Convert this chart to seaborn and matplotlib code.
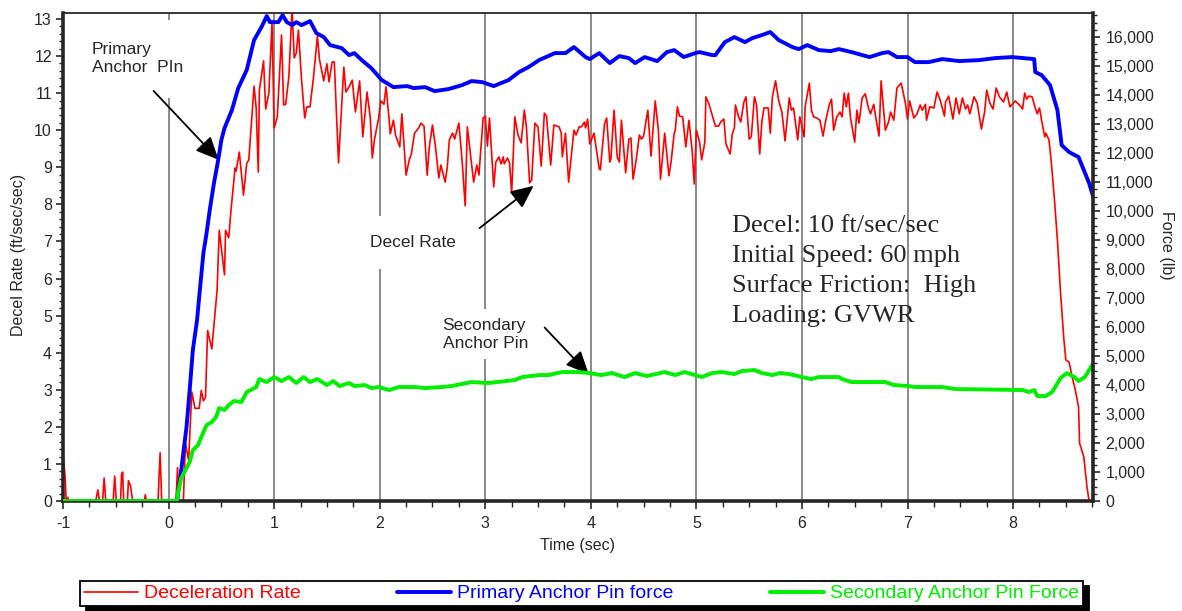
import matplotlib
matplotlib.use("Agg")
import matplotlib.pyplot as plt
from matplotlib.ticker import MultipleLocator, StrMethodFormatter
import seaborn as sns

# deceleration rate (ft/sec/sec)
decel_t = [-1.00, -0.98, -0.97, -0.955, -0.945, -0.69, -0.67, -0.655, -0.625, -0.61,
           -0.595, -0.525, -0.51, -0.495, -0.455, -0.445, -0.435, -0.425, -0.39, -0.38,
           -0.36, -0.34, -0.23, -0.22, -0.21, -0.10, -0.08, -0.065, 0.07, 0.085,
           0.095, 0.14, 0.16, 0.19, 0.22, 0.25, 0.29, 0.31, 0.33, 0.35,
           0.37, 0.41, 0.44, 0.46, 0.48, 0.53, 0.54, 0.57, 0.59, 0.63,
           0.64, 0.67, 0.71, 0.74, 0.76, 0.81, 0.83, 0.85, 0.86, 0.90,
           0.92, 0.95, 0.98, 1.00, 1.03, 1.07, 1.09, 1.11, 1.14, 1.17,
           1.19, 1.21, 1.23, 1.26, 1.29, 1.31, 1.34, 1.37, 1.41, 1.43,
           1.47, 1.50, 1.52, 1.55, 1.57, 1.61, 1.66, 1.68, 1.71, 1.74,
           1.77, 1.81, 1.84, 1.88, 1.91, 1.93, 1.95, 1.99, 2.01, 2.04,
           2.06, 2.09, 2.10, 2.13, 2.15, 2.19, 2.21, 2.25, 2.28, 2.30,
           2.33, 2.37, 2.39, 2.42, 2.45, 2.47, 2.50, 2.53, 2.56, 2.58,
           2.62, 2.64, 2.66, 2.69, 2.71, 2.75, 2.78, 2.81, 2.83, 2.85,
           2.89, 2.92, 2.94, 2.98, 3.00, 3.02, 3.04, 3.08, 3.10, 3.13,
           3.15, 3.17, 3.18, 3.21, 3.23, 3.25, 3.28, 3.31, 3.34, 3.37,
           3.39, 3.42, 3.44, 3.47, 3.50, 3.53, 3.56, 3.58, 3.62, 3.65,
           3.70, 3.72, 3.73, 3.76, 3.79, 3.84, 3.86, 3.89, 3.91, 3.94,
           3.95, 3.97, 3.99, 4.03, 4.08, 4.09, 4.13, 4.15, 4.18, 4.19,
           4.22, 4.25, 4.27, 4.29, 4.33, 4.36, 4.38, 4.40, 4.43, 4.46,
           4.48, 4.50, 4.54, 4.57, 4.61, 4.64, 4.66, 4.70, 4.74, 4.76,
           4.79, 4.80, 4.82, 4.84, 4.87, 4.90, 4.93, 4.96, 4.98, 5.00,
           5.03, 5.05, 5.08, 5.09, 5.12, 5.15, 5.18, 5.21, 5.23, 5.26,
           5.28, 5.32, 5.34, 5.36, 5.37, 5.40, 5.42, 5.45, 5.47, 5.50,
           5.52, 5.55, 5.57, 5.60, 5.62, 5.64, 5.68, 5.70, 5.72, 5.75,
           5.78, 5.81, 5.84, 5.88, 5.90, 5.92, 5.96, 5.98, 6.02, 6.03,
           6.07, 6.09, 6.11, 6.14, 6.17, 6.20, 6.22, 6.26, 6.28, 6.30,
           6.33, 6.36, 6.38, 6.40, 6.42, 6.44, 6.46, 6.50, 6.52, 6.54,
           6.57, 6.60, 6.63, 6.65, 6.68, 6.70, 6.73, 6.75, 6.79, 6.82,
           6.84, 6.87, 6.90, 6.94, 6.98, 7.00, 7.02, 7.06, 7.09, 7.12,
           7.14, 7.17, 7.18, 7.21, 7.25, 7.28, 7.31, 7.35, 7.36, 7.39,
           7.43, 7.46, 7.49, 7.52, 7.55, 7.57, 7.59, 7.63, 7.66, 7.70,
           7.73, 7.75, 7.78, 7.81, 7.84, 7.87, 7.91, 7.94, 7.97, 8.02,
           8.06, 8.09, 8.11, 8.13, 8.15, 8.18, 8.21, 8.23, 8.25, 8.27,
           8.30, 8.31, 8.34, 8.36, 8.39, 8.42, 8.45, 8.48, 8.50, 8.53,
           8.56, 8.59, 8.62, 8.63, 8.67, 8.70, 8.72]
decel = [1.30, 0.65, 0.00, 0.10, 0.00, 0.00, 0.30, 0.00, 0.00, 0.62,
         0.00, 0.00, 0.67, 0.00, 0.00, 0.72, 0.78, 0.00, 0.00, 0.55,
         0.40, 0.00, 0.00, 0.17, 0.00, 0.00, 1.30, 0.00, 0.00, 0.90,
         0.00, 0.00, 1.56, 1.10, 2.94, 2.50, 2.50, 2.98, 2.70, 2.80,
         4.60, 4.10, 5.07, 5.70, 7.30, 6.10, 7.30, 7.10, 7.80, 8.98,
         8.90, 9.41, 8.25, 9.10, 9.20, 11.19, 10.60, 8.87, 11.08, 11.87,
         10.57, 11.00, 12.89, 10.06, 10.36, 12.57, 10.68, 10.70, 11.46, 13.30,
         11.95, 12.08, 12.70, 11.35, 10.33, 10.63, 10.63, 11.35, 12.54, 11.90,
         11.33, 11.79, 11.30, 11.84, 11.84, 9.12, 11.70, 11.03, 11.17, 11.35,
         10.49, 11.33, 9.82, 11.03, 10.36, 9.25, 9.74, 10.33, 10.79, 10.70,
         11.17, 10.27, 9.90, 10.27, 9.87, 9.55, 10.44, 8.79, 9.20, 9.36,
         9.92, 10.06, 10.19, 10.11, 8.79, 9.55, 10.14, 9.52, 8.71, 9.06,
         8.60, 9.00, 9.74, 9.92, 9.76, 10.19, 9.20, 7.96, 10.09, 9.60,
         8.60, 9.06, 8.79, 10.33, 10.38, 9.57, 10.33, 8.47, 9.14, 9.28,
         9.09, 9.28, 9.09, 9.25, 9.12, 8.31, 10.36, 9.87, 9.66, 10.54,
         10.09, 8.58, 8.66, 10.19, 10.09, 9.03, 10.46, 10.38, 9.06, 10.14,
         10.09, 9.92, 9.28, 9.92, 8.60, 10.00, 9.87, 10.09, 10.09, 10.22,
         10.06, 10.30, 9.63, 9.92, 8.95, 8.93, 10.17, 10.33, 9.14, 9.22,
         10.54, 9.28, 9.14, 10.27, 8.85, 9.76, 9.79, 8.68, 9.20, 9.87,
         9.76, 9.84, 10.54, 9.30, 10.79, 10.00, 8.68, 9.92, 8.77, 9.14,
         9.92, 10.00, 10.63, 10.38, 10.36, 9.55, 10.27, 9.44, 8.55, 10.00,
         9.68, 9.20, 9.68, 10.90, 10.70, 10.41, 10.11, 10.11, 10.22, 10.30,
         9.63, 9.36, 9.90, 10.06, 10.68, 10.36, 10.22, 10.76, 10.90, 9.76,
         9.82, 10.90, 10.68, 9.36, 10.22, 10.60, 10.60, 9.92, 10.90, 11.33,
         10.79, 10.49, 9.71, 10.87, 10.54, 10.60, 9.74, 10.36, 9.82, 10.63,
         11.27, 10.54, 10.36, 10.33, 10.27, 9.84, 10.19, 10.70, 10.84, 10.00,
         10.36, 10.49, 10.36, 11.00, 10.63, 11.00, 10.33, 9.68, 10.54, 10.19,
         10.87, 10.98, 10.60, 10.44, 10.70, 10.33, 9.84, 11.33, 10.00, 10.22,
         10.49, 10.27, 11.14, 11.27, 10.73, 10.30, 10.79, 10.33, 10.44, 10.68,
         10.54, 10.70, 10.27, 10.63, 10.60, 11.03, 10.81, 10.38, 10.76, 10.92,
         10.30, 10.87, 10.44, 10.87, 10.57, 10.68, 10.44, 10.90, 10.73, 10.03,
         10.49, 11.08, 10.73, 10.57, 11.14, 10.90, 10.76, 11.03, 10.63, 10.79,
         10.68, 10.57, 11.00, 10.84, 10.92, 10.90, 10.60, 10.44, 10.60, 10.27,
         9.82, 9.92, 9.74, 9.20, 8.20, 7.04, 5.60, 4.40, 3.80, 3.75,
         3.34, 2.99, 2.54, 1.56, 1.19, 0.38, 0.00]

# primary anchor pin force (lb)
primary_t = [-1.00, 0.08, 0.12, 0.17, 0.20, 0.23, 0.27, 0.29, 0.33, 0.36,
             0.39, 0.43, 0.47, 0.50, 0.53, 0.60, 0.66, 0.74, 0.81, 0.88,
             0.93, 0.96, 1.04, 1.08, 1.12, 1.17, 1.21, 1.26, 1.34, 1.40,
             1.47, 1.53, 1.64, 1.71, 1.76, 1.83, 1.92, 2.02, 2.13, 2.26,
             2.32, 2.43, 2.52, 2.65, 2.78, 2.87, 2.97, 3.08, 3.22, 3.32,
             3.41, 3.51, 3.66, 3.76, 3.84, 3.95, 3.99, 4.08, 4.18, 4.27,
             4.36, 4.42, 4.51, 4.63, 4.72, 4.79, 4.88, 4.99, 5.03, 5.15,
             5.18, 5.27, 5.36, 5.46, 5.53, 5.62, 5.70, 5.78, 5.91, 5.97,
             6.05, 6.16, 6.27, 6.35, 6.47, 6.64, 6.76, 6.82, 6.90, 7.00,
             7.07, 7.20, 7.33, 7.49, 7.68, 7.83, 7.99, 8.20, 8.21, 8.27,
             8.35, 8.42, 8.46, 8.53, 8.62, 8.67, 8.72, 8.76]
primary = [0, 0, 1069, 2552, 3828, 5207, 6241, 7034, 8551, 9241,
           10034, 10965, 11758, 12448, 12862, 13482, 14241, 14861, 15896, 16344,
           16723, 16516, 16516, 16758, 16516, 16413, 16516, 16413, 16551, 16137,
           16000, 15723, 15620, 15379, 15448, 15206, 14930, 14517, 14275, 14310,
           14241, 14275, 14137, 14206, 14344, 14482, 14448, 14310, 14517, 14793,
           14965, 15206, 15448, 15448, 15655, 15310, 15241, 15448, 15103, 15344,
           15275, 15103, 15310, 15172, 15482, 15551, 15310, 15448, 15482, 15379,
           15379, 15827, 16000, 15827, 15965, 16068, 16172, 15896, 15655, 15586,
           15723, 15551, 15517, 15586, 15482, 15310, 15448, 15482, 15310, 15310,
           15137, 15137, 15241, 15172, 15206, 15275, 15310, 15241, 14793, 14689,
           14344, 13482, 12275, 12034, 11862, 11413, 10965, 10482]

# secondary anchor pin force (lb)
secondary_t = [-1.00, 0.08, 0.09, 0.12, 0.16, 0.20, 0.23, 0.28, 0.31, 0.36,
               0.41, 0.45, 0.48, 0.53, 0.57, 0.62, 0.69, 0.74, 0.83, 0.86,
               0.93, 1.00, 1.07, 1.14, 1.21, 1.28, 1.34, 1.41, 1.50, 1.56,
               1.62, 1.71, 1.76, 1.86, 1.92, 1.99, 2.09, 2.18, 2.33, 2.43,
               2.59, 2.68, 2.87, 3.03, 3.28, 3.35, 3.51, 3.60, 3.73, 3.89,
               3.98, 4.10, 4.20, 4.32, 4.42, 4.53, 4.70, 4.80, 4.89, 5.05,
               5.15, 5.24, 5.36, 5.43, 5.55, 5.62, 5.72, 5.79, 5.88, 6.00,
               6.09, 6.16, 6.35, 6.38, 6.47, 6.79, 6.87, 7.01, 7.07, 7.33,
               7.45, 8.09, 8.15, 8.20, 8.23, 8.31, 8.37, 8.45, 8.51, 8.58,
               8.62, 8.68, 8.76]
secondary = [0, 0, 300, 793, 1069, 1345, 1758, 1931, 2207, 2620,
             2724, 2896, 3207, 3138, 3310, 3448, 3414, 3758, 3931, 4206,
             4103, 4275, 4137, 4275, 4069, 4275, 4103, 4206, 4000, 4137,
             3965, 4069, 3965, 4000, 3896, 3931, 3827, 3931, 3931, 3896,
             3931, 3965, 4103, 4069, 4172, 4275, 4344, 4344, 4448, 4448,
             4413, 4344, 4413, 4275, 4413, 4310, 4448, 4344, 4448, 4275,
             4413, 4448, 4379, 4482, 4517, 4413, 4344, 4413, 4379, 4275,
             4206, 4275, 4275, 4206, 4103, 4103, 4000, 3965, 3931, 3931,
             3862, 3827, 3758, 3827, 3620, 3620, 3758, 4241, 4413, 4275,
             4137, 4275, 4758]

info_lines = ["Decel: 10 ft/sec/sec", "Initial Speed: 60 mph",
              "Surface Friction:  High", "Loading: GVWR"]

RED, BLUE, GREEN = "#ff0000", "#0000ff", "#00ee00"

sns.set_style("ticks")
plt.rcParams["font.family"] = ["Liberation Sans", "DejaVu Sans"]
plt.rcParams["axes.unicode_minus"] = False

fig = plt.figure(figsize=(11.82, 6.11), dpi=100)
ax = fig.add_axes([0.0533, 0.180, 0.8714, 0.7987])
ax2 = ax.twinx()

sns.lineplot(x=decel_t, y=decel, ax=ax, color=RED, lw=1.2, estimator=None,
             sort=False, legend=False, label="Deceleration Rate")
sns.lineplot(x=primary_t, y=primary, ax=ax2, color=BLUE, lw=2.8, estimator=None,
             sort=False, legend=False, label="Primary Anchor Pin force")
sns.lineplot(x=secondary_t, y=secondary, ax=ax2, color=GREEN, lw=2.8, estimator=None,
             sort=False, legend=False, label="Secondary Anchor Pin Force")

ax.set_xlim(-1, 8.757)
ax.set_ylim(0, 13.16)
ax2.set_ylim(0, 16830)

ax.xaxis.set_major_locator(MultipleLocator(1))
ax.xaxis.set_minor_locator(MultipleLocator(0.25))
ax.yaxis.set_major_locator(MultipleLocator(1))
ax.yaxis.set_minor_locator(MultipleLocator(0.2))
ax2.yaxis.set_major_locator(MultipleLocator(1000))
ax2.yaxis.set_minor_locator(MultipleLocator(250))
ax2.yaxis.set_major_formatter(StrMethodFormatter("{x:,.0f}"))

ax.set_axisbelow(True)
ax.grid(axis="x", which="major", color="#8a8a8a", lw=1.4)
ax.grid(axis="y", visible=False)

ax.tick_params(axis="x", which="major", direction="out", length=6, width=1.2,
               labelsize=11.5, pad=5)
ax.tick_params(axis="x", which="minor", direction="out", length=4, width=1)
ax.tick_params(axis="y", which="major", direction="out", length=5, width=1.2,
               labelsize=11.5, pad=3)
ax.tick_params(axis="y", which="minor", direction="out", length=3, width=1)
ax2.tick_params(axis="y", which="major", direction="out", length=5, width=1.2,
                labelsize=11.5, pad=4)
ax2.tick_params(axis="y", which="minor", direction="out", length=3, width=1)

for side in ["left", "bottom"]:
    ax.spines[side].set_linewidth(2.6)
ax.spines["top"].set_linewidth(1.3)
ax.spines["right"].set_visible(False)
ax2.spines["right"].set_linewidth(2.6)
for side in ["left", "bottom", "top"]:
    ax2.spines[side].set_visible(False)

ax.set_xlabel("Time (sec)", fontsize=11.5)
ax.xaxis.set_label_coords(0.5, -0.075)
ax.set_ylabel("Decel Rate (ft/sec/sec)", fontsize=11.5)
ax.yaxis.set_label_coords(-0.036, 0.505)
ax2.set_ylabel("Force (lb)", fontsize=11.5, rotation=270, va="center")
ax2.yaxis.set_label_coords(1.071, 0.525)

# callouts
arrow = dict(arrowstyle="-|>,head_length=0.7,head_width=0.32", color="black",
             lw=1.3, mutation_scale=20, shrinkA=0, shrinkB=0)
ax.text(-0.73, 11.92, "Primary\nAnchor  PIn", fontsize=12.5, ha="left", va="center",
        linespacing=1.25, bbox=dict(fc="white", ec="none", boxstyle="square,pad=1.3"),
        zorder=1.5)
ax.annotate("", xy=(0.474, 9.2), xytext=(-0.142, 11.06), arrowprops=arrow)
ax.text(1.905, 6.98, "Decel Rate", fontsize=12.5, ha="left", va="center",
        bbox=dict(fc="white", ec="none", boxstyle="square,pad=1.1"), zorder=1.5)
ax.annotate("", xy=(3.458, 8.5), xytext=(2.946, 7.36), arrowprops=arrow)
ax.text(2.596, 4.50, "Secondary\nAnchor Pin", fontsize=12.5, ha="left", va="center",
        linespacing=1.25, bbox=dict(fc="white", ec="none", boxstyle="square,pad=0.5"),
        zorder=1.5)
ax.annotate("", xy=(3.98, 3.42), xytext=(3.562, 4.68), arrowprops=arrow)

ax.text(0.650, 0.586, "\n".join(info_lines), transform=ax.transAxes,
        family=["Liberation Serif", "DejaVu Serif"], fontsize=19, ha="left",
        va="top", linespacing=1.44, zorder=1.5)

handles = ax.get_lines()[:1] + ax2.get_lines()[:2]
labels = [h.get_label() for h in handles]
fig.legend(handles, labels, loc="center", ncol=3, mode="expand",
           bbox_to_anchor=(80 / 1182, 1 - 607 / 611, 1003 / 1182, 27 / 611),
           bbox_transform=fig.transFigure, borderaxespad=0, borderpad=0.2,
           fontsize=14, labelcolor="linecolor", handlelength=2.8,
           handletextpad=0.3, frameon=True, fancybox=False, edgecolor="black",
           framealpha=1,
           shadow={"ox": 4, "oy": -4, "color": "black", "alpha": 1.0})
fig.legends[0].get_frame().set_linewidth(1.3)

fig.savefig("out.png", dpi=100)
